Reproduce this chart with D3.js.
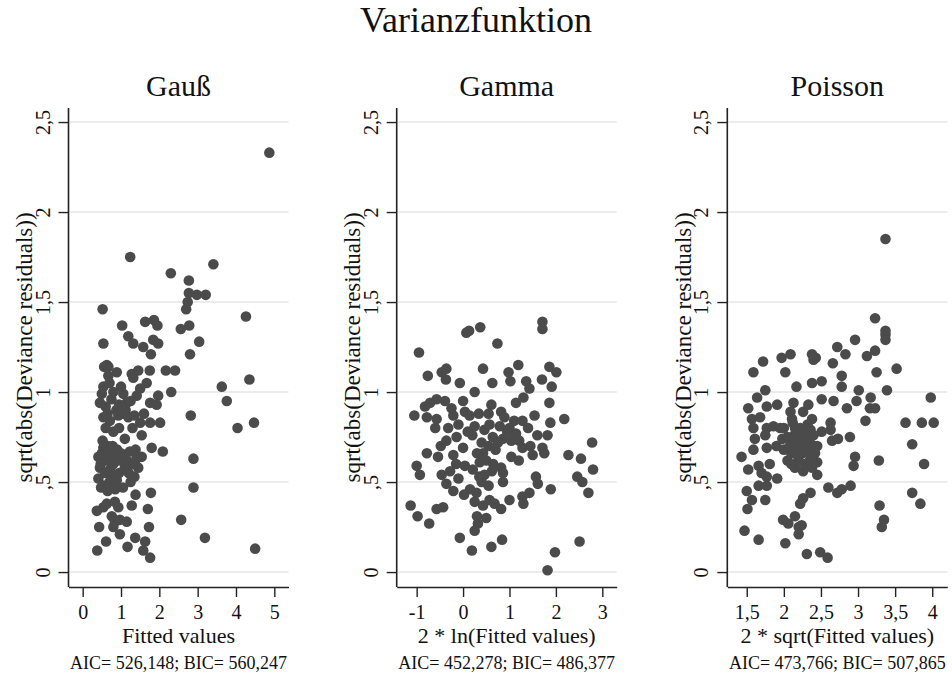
<!DOCTYPE html>
<html>
<head>
<meta charset="utf-8">
<script src="https://cdn.jsdelivr.net/npm/d3@7"></script>
<style>
  html, body { margin: 0; padding: 0; background: #ffffff; }
  svg text { font-family: "Liberation Serif", "Times New Roman", Times, serif; fill: #111; }
</style>
</head>
<body>
<svg id="chart" width="952" height="676"></svg>
<script>
// Residual diagnostics: sqrt(|deviance residual|) against transformed fitted values

const panelTitles = ["Gauß", "Gamma", "Poisson"];
const xAxisTitles = ["Fitted values", "2 * ln(Fitted values)", "2 * sqrt(Fitted values)"];
const fitNotes = ["AIC= 526,148; BIC= 560,247", "AIC= 452,278; BIC= 486,377", "AIC= 473,766; BIC= 507,865"];
const yTickValues = [0, 0.5, 1, 1.5, 2, 2.5];
const yTickLabels = ["0", ",5", "1", "1,5", "2", "2,5"];
const xTickValues = [[0, 1, 2, 3, 4, 5], [-1, 0, 1, 2, 3], [1.5, 2, 2.5, 3, 3.5, 4]];
const xTickLabels = [["0", "1", "2", "3", "4", "5"], ["-1", "0", "1", "2", "3"], ["1,5", "2", "2,5", "3", "3,5", "4"]];
const xDomains = [[-0.37, 5.37], [-1.43, 3.31], [1.238, 4.203]];
const yDomain = [-0.083, 2.578];

// [fitted, sqrt(abs(deviance residual))]
const gaussPoints = [
  [4.87,2.33],[1.24,1.75],[3.41,1.71],[2.30,1.66],[2.77,1.62],[2.77,1.55],[2.98,1.54],[3.21,1.54],[2.74,1.50],[2.70,1.46],
  [0.52,1.46],[4.26,1.42],[1.03,1.37],[1.63,1.39],[1.86,1.40],[1.95,1.37],[2.56,1.35],[2.78,1.37],[1.19,1.31],[1.32,1.27],
  [1.84,1.29],[1.97,1.27],[3.04,1.28],[0.54,1.27],[1.58,1.25],[1.78,1.21],[2.80,1.21],
  [0.56,1.14],[0.67,1.14],[0.67,1.09],[0.89,1.11],[1.28,1.10],[1.32,1.08],[2.17,1.12],[2.41,1.12],[4.35,1.07],[3.63,1.03],
  [3.76,0.95],[2.31,1.00],[1.97,0.98],[2.82,0.87],[4.04,0.80],[4.47,0.83],[2.09,0.67],[1.80,0.69],[2.89,0.63],[2.89,0.47],
  [2.57,0.29],[3.19,0.19],[4.50,0.13],
  [1.78,0.44],[1.38,0.43],[1.28,0.37],[1.70,0.35],[1.73,0.25],[1.15,0.28],[1.37,0.19],[1.63,0.17],[1.17,0.14],[1.58,0.12],
  [1.76,0.08],[0.38,0.12],[0.61,0.17],[0.43,0.25],[0.37,0.34],[0.54,0.36],[0.63,0.38],[0.84,0.39],[0.93,0.36],[0.76,0.31],
  [0.84,0.28],[0.80,0.25],[0.97,0.21],[0.97,0.29],
  [0.63,1.15],[0.54,1.03],[0.50,0.99],[0.45,0.94],[0.80,1.00],[1.06,0.99],[1.15,0.94],[1.41,0.98],[1.67,1.05],[1.76,0.94],
  [1.93,0.93],[0.54,0.86],[0.71,0.84],[0.93,0.87],[1.19,0.86],[1.50,0.83],[1.76,0.83],[2.02,0.83],[0.80,0.78],[1.10,0.74],
  [1.54,0.76],[0.54,0.69],[0.41,0.64],[0.71,0.65],[0.97,0.62],[1.23,0.67],[1.54,0.64],[0.45,0.58],[0.71,0.57],[1.10,0.58],
  [1.45,0.58],[0.41,0.52],[0.54,0.48],[0.89,0.51],
  [0.60,0.62],[0.80,0.60],[0.66,0.70],[0.90,0.68],[1.00,0.66],[1.15,0.62],[1.30,0.60],[1.40,0.63],[0.50,0.66],[0.58,0.55],
  [0.75,0.53],[0.95,0.55],[1.20,0.55],[1.35,0.53],[0.48,0.47],[0.65,0.45],[0.85,0.46],[1.05,0.47],[1.25,0.50],[0.60,0.92],
  [0.75,0.96],[0.95,0.93],[1.25,0.95],[0.65,0.88],[1.05,0.88],[1.35,0.87],[1.60,0.88],[0.60,0.80],[0.95,0.80],[1.30,0.80],
  [0.70,1.05],[1.00,1.03],[1.50,1.02],[1.75,1.12],[1.45,1.12],
  [0.47,0.60],[0.62,0.66],[0.85,0.64],[1.08,0.64],[0.78,0.70],[0.52,0.73],[0.70,0.50],[1.38,0.68],[0.88,0.90],[1.12,0.90]
];

// [2*ln(fitted), sqrt(abs(deviance residual))]
const gammaPoints = [
  [-0.95,1.22],[0.07,1.33],[0.13,1.34],[0.37,1.36],[0.74,1.27],[1.71,1.39],[1.71,1.35],
  [-0.76,1.09],[-0.46,1.11],[-0.36,1.13],[-0.37,1.07],[-0.07,1.05],[0.25,1.00],[0.43,1.13],[0.63,1.05],[0.98,1.11],[1.02,1.06],
  [1.19,1.15],[1.36,1.06],[1.43,1.02],[1.70,1.07],[1.86,1.14],[2.01,1.11],[1.91,1.03],[1.30,0.97],[1.14,0.94],[1.86,0.94],
  [-1.05,0.87],[-0.82,0.92],[-0.71,0.94],[-0.57,0.96],[-0.39,0.95],[-0.78,0.86],[-0.57,0.85],[-0.25,0.91],[-0.21,0.87],
  [0.04,0.89],[0.14,0.87],[0.34,0.88],[0.61,0.93],[0.82,0.89],[0.89,0.86],[1.28,0.84],[1.54,0.87],[1.88,0.83],[2.18,0.85],
  [-0.32,0.80],[-0.36,0.73],[-0.14,0.75],[0.00,0.69],[0.25,0.81],[0.46,0.79],[0.57,0.82],[0.79,0.81],[1.00,0.80],[1.14,0.77],
  [0.64,0.75],[0.86,0.74],[1.04,0.73],[1.21,0.73],[1.82,0.76],[2.78,0.72],[1.28,0.69],[1.50,0.65],[1.71,0.69],[1.75,0.66],
  [2.27,0.65],[2.54,0.63],[2.80,0.57],
  [-0.78,0.66],[-0.54,0.64],[-1.00,0.59],[-0.93,0.54],[-0.21,0.65],[0.04,0.59],[0.21,0.57],[0.36,0.61],[0.43,0.66],[0.46,0.54],
  [0.82,0.58],[1.04,0.64],[0.86,0.55],[0.86,0.50],[-0.46,0.54],[-0.28,0.56],[-0.36,0.49],[-0.21,0.45],[0.02,0.43],[0.29,0.44],
  [0.25,0.39],[0.43,0.37],[0.57,0.40],[0.68,0.38],[0.82,0.35],[1.00,0.40],[1.28,0.42],[1.30,0.38],[1.43,0.44],[1.57,0.53],
  [1.61,0.49],[1.89,0.46],[2.46,0.53],[2.57,0.50],[2.70,0.44],
  [-1.13,0.37],[-0.98,0.31],[-0.73,0.27],[-0.57,0.35],[-0.43,0.36],[0.32,0.27],[0.25,0.23],[-0.07,0.19],[0.19,0.12],[0.61,0.14],
  [0.84,0.18],[1.98,0.11],[1.82,0.01],[2.51,0.17],
  [0.40,0.72],[0.55,0.70],[0.70,0.68],[0.30,0.66],[0.50,0.62],[0.65,0.60],[0.75,0.72],[0.95,0.78],[0.20,0.76],[-0.10,0.82],
  [0.10,0.78],[0.40,0.50],[0.55,0.48],[0.35,0.53],[0.62,0.56],[-0.15,0.60],[1.10,0.84],[1.40,0.80],[1.60,0.76],[0.00,0.95],
  [-0.60,0.80],[-0.48,0.70],[1.20,0.62],[1.45,0.70],[-0.10,0.52],[0.15,0.46],[0.55,0.88],[0.50,0.30],[0.30,0.31]
];

// [2*sqrt(fitted), sqrt(abs(deviance residual))]
const poissonPoints = [
  [3.37,1.85],[3.23,1.41],[3.37,1.34],[3.37,1.32],[3.37,1.29],[3.23,1.23],[3.12,1.20],[2.96,1.29],[2.72,1.25],[2.83,1.21],
  [2.38,1.21],[2.43,1.19],[2.09,1.21],[1.97,1.19],[1.72,1.17],
  [1.59,1.11],[2.02,1.11],[2.40,1.18],[2.66,1.16],[3.25,1.11],[3.52,1.13],[2.78,1.09],[2.78,1.03],[2.38,1.05],[2.51,1.06],
  [2.17,1.03],[1.75,1.01],[1.64,0.97],[3.01,1.01],[3.39,1.01],[2.98,0.95],[3.17,0.97],[3.98,0.97],[2.51,0.96],[2.67,0.95],
  [2.13,0.94],[2.33,0.93],[1.52,0.91],[1.77,0.92],[1.91,0.93],[2.85,0.91],[3.16,0.91],[3.23,0.91],
  [1.57,0.85],[1.68,0.86],[2.09,0.89],[2.11,0.85],[2.26,0.89],[2.38,0.85],[2.63,0.83],[3.10,0.84],[3.64,0.83],[3.86,0.83],
  [4.02,0.83],[3.73,0.71],[3.89,0.60],[3.73,0.44],[3.84,0.38],[3.28,0.62],[3.29,0.37],[3.35,0.29],[3.32,0.25],
  [1.59,0.80],[1.77,0.80],[1.86,0.81],[1.95,0.80],[1.75,0.76],[1.61,0.74],[1.59,0.68],[1.77,0.69],[1.43,0.64],[1.52,0.57],
  [1.66,0.59],[1.81,0.60],[1.70,0.55],[1.77,0.53],[1.91,0.52],[1.66,0.48],[1.77,0.48],[1.50,0.45],[1.57,0.40],[1.51,0.35],
  [1.75,0.40],[1.47,0.23],[1.66,0.18],[2.02,0.16],[1.99,0.29],[2.06,0.27],[2.15,0.31],[2.20,0.25],[2.24,0.26],[2.20,0.21],
  [2.22,0.38],[2.26,0.41],[2.36,0.44],[2.31,0.10],[2.49,0.11],[2.59,0.08],[2.45,0.54],[2.45,0.61],[2.60,0.47],[2.72,0.44],
  [2.78,0.46],[2.90,0.48],[2.94,0.59],[2.96,0.64],[2.89,0.75],[2.65,0.73],[2.73,0.74],[2.63,0.79],[2.51,0.78],
  [2.05,0.75],[2.12,0.72],[2.18,0.70],[2.25,0.73],[2.30,0.68],[2.35,0.72],[2.40,0.76],[2.10,0.66],[2.20,0.62],[2.28,0.60],
  [2.15,0.58],[2.35,0.62],[2.00,0.68],[2.22,0.80],[2.32,0.82],[2.15,0.80],[2.42,0.66],[2.05,0.62],[2.25,0.66],[2.38,0.58],
  [2.45,0.70],[2.00,0.80],[1.90,0.70],[2.30,0.76],[2.20,0.76],
  [2.08,0.70],[2.14,0.76],[2.24,0.69],[2.28,0.78],[2.34,0.66],[2.18,0.65],[2.10,0.60],[2.40,0.70],[2.26,0.56],[2.12,0.83],
  [1.98,0.74],[2.36,0.79]
];

const panelPoints = [gaussPoints, gammaPoints, poissonPoints];

// ---- layout ----
const svg = d3.select("#chart");
const plotTop = 108, plotBottom = 587, plotWidth = 220;
const panelLefts = [68.5, 396.7, 727.3];
const markColor = "#4b4b4b";

svg.append("text")
  .attr("x", 476).attr("y", 32)
  .attr("text-anchor", "middle")
  .style("font-size", "36px")
  .text("Varianzfunktion");

const y = d3.scaleLinear().domain(yDomain).range([plotBottom, plotTop]);

panelPoints.forEach((pts, i) => {
  const left = panelLefts[i];
  const x = d3.scaleLinear().domain(xDomains[i]).range([left, left + plotWidth]);
  const g = svg.append("g");

  // horizontal grid lines
  g.append("g").selectAll("line")
    .data(yTickValues)
    .join("line")
    .attr("x1", left + 1).attr("x2", left + plotWidth)
    .attr("y1", d => y(d)).attr("y2", d => y(d))
    .attr("stroke", "#e6e6e6").attr("stroke-width", 1.6);

  // points
  g.append("g").selectAll("circle")
    .data(pts)
    .join("circle")
    .attr("cx", d => x(d[0]))
    .attr("cy", d => y(d[1]))
    .attr("r", 5.3)
    .attr("fill", markColor);

  // y axis
  const yAxis = g.append("g")
    .attr("transform", `translate(${left},0)`)
    .call(d3.axisLeft(y).tickValues(yTickValues).tickSize(10).tickSizeOuter(0)
      .tickFormat((d, k) => yTickLabels[k]));
  yAxis.select(".domain").attr("d", `M0,${plotTop}V${plotBottom}`);
  yAxis.selectAll(".tick text")
    .attr("transform", "rotate(-90)")
    .attr("x", 0).attr("y", -19).attr("dy", 0)
    .attr("text-anchor", "middle")
    .style("font-size", "20px");

  // x axis
  const xAxis = g.append("g")
    .attr("transform", `translate(0,${plotBottom})`)
    .call(d3.axisBottom(x).tickValues(xTickValues[i]).tickSize(10).tickSizeOuter(0)
      .tickFormat((d, k) => xTickLabels[i][k]));
  xAxis.selectAll(".tick text")
    .attr("y", 32).attr("dy", 0)
    .style("font-size", "20px");

  [yAxis, xAxis].forEach(a => {
    a.select(".domain").attr("stroke", "#222").attr("stroke-width", 1.6);
    a.selectAll(".tick line").attr("stroke", "#222").attr("stroke-width", 1.4);
    a.selectAll(".tick text").attr("fill", "#111");
    a.attr("font-family", null).attr("font-size", null);
  });

  const cx = left + plotWidth / 2;

  // panel title
  g.append("text")
    .attr("x", cx).attr("y", 96)
    .attr("text-anchor", "middle")
    .style("font-size", "30px")
    .text(panelTitles[i]);

  // y axis title
  g.append("text")
    .attr("transform", `translate(${left - 36.5},${(plotTop + plotBottom) / 2}) rotate(-90)`)
    .attr("text-anchor", "middle")
    .style("font-size", "23px")
    .text("sqrt(abs(Deviance residuals))");

  // x axis title
  g.append("text")
    .attr("x", cx).attr("y", 643)
    .attr("text-anchor", "middle")
    .style("font-size", "22px")
    .text(xAxisTitles[i]);

  // information criteria
  g.append("text")
    .attr("x", cx).attr("y", 669)
    .attr("text-anchor", "middle")
    .style("font-size", "18px")
    .text(fitNotes[i]);
});
</script>
</body>
</html>
